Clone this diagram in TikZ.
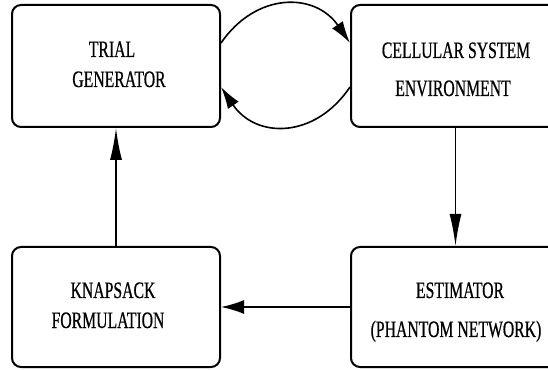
\documentclass[tikz,border=0pt]{standalone}
\usepackage{fontspec}
\newfontfamily\labfont[FakeStretch=0.67,FakeBold=0.6]{Liberation Serif}
\usetikzlibrary{arrows.meta}
\tikzset{
 box/.style={draw, line width=2pt, rounded corners=9pt, minimum width=208pt, minimum height=122pt, inner sep=0pt},
 lbl/.style={anchor=base, inner sep=0pt, font=\labfont\fontsize{23.5}{26}\selectfont},
 conn/.style={line width=1.6pt},
 vtip/.style={-{Latex[length=32pt,width=12pt]}},
 htip/.style={-{Latex[length=23pt,width=14pt]}},
 atip/.style={-{Latex[length=22pt,width=13pt]}}
}
\begin{document}
\begin{tikzpicture}[x=1pt,y=1pt]
\useasboundingbox (0,0) rectangle (548,369);
\clip (0,0) rectangle (548,369);
\node[box] (tg) at (116,303) {};
\node[box, minimum width=209pt] (cse) at (455.5,303) {};
\node[box, minimum height=120pt] (kf) at (116,62) {};
\node[box, minimum width=209pt, minimum height=120pt] (est) at (455.5,62) {};
% labels
\node[lbl] (tg1) at (112,312) {TRIAL};
\node[lbl] (tg2) at (119,282) {GENERATOR};
\node[lbl] (cse1) at (456,311) {CELLULAR SYSTEM};
\node[lbl] (cse2) at (453,273) {ENVIRONMENT};
\node[lbl] (kf1) at (113,71) {KNAPSACK};
\node[lbl] (kf2) at (108,41) {FORMULATION};
\node[lbl] (est1) at (460,71) {ESTIMATOR};
\node[lbl] (est2) at (456,32) {(PHANTOM NETWORK)};
% connectors
\draw[conn, atip] ([yshift=23pt]tg.east) .. controls +(35,51) and +(-35,51) .. ([yshift=23pt]cse.west);
\draw[conn, atip] ([yshift=-21pt]cse.west) .. controls +(-35,-52) and +(35,-52) .. ([yshift=-21pt]tg.east);
\draw[conn, vtip] (kf.north) -- (tg.south);
\draw[conn, vtip] (cse.south) -- (est.north);
\draw[conn, htip] (est.west) -- (kf.east);
\end{tikzpicture}
\end{document}
